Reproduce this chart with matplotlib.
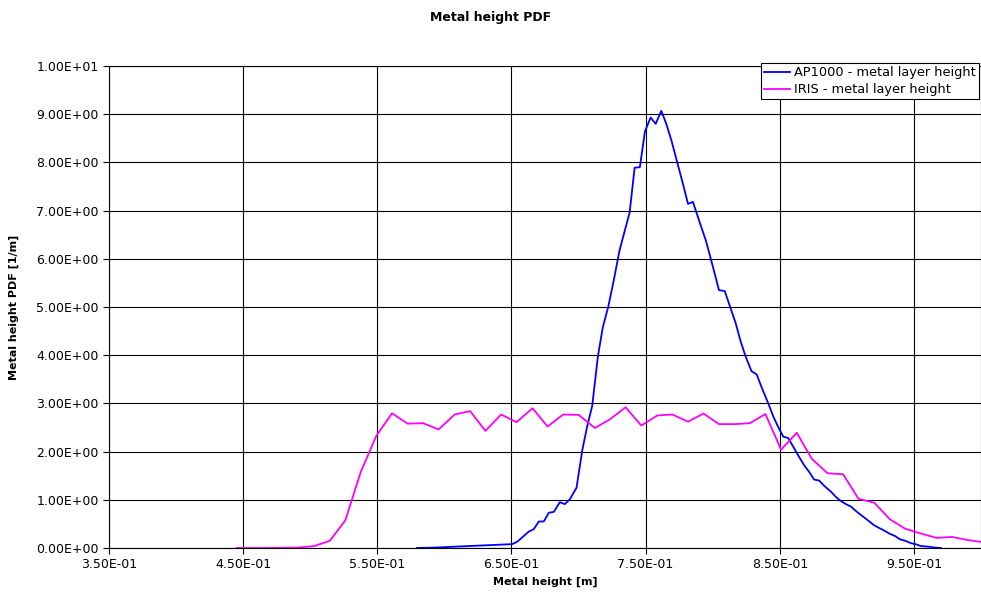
import matplotlib
matplotlib.use("Agg")
import matplotlib.pyplot as plt
from matplotlib.ticker import FuncFormatter, FixedLocator, MultipleLocator

# AP1000 metal layer height PDF
ap1000_h = [0.5796, 0.5946, 0.6095, 0.6343, 0.6505, 0.6543, 0.6629, 0.6666,
            0.6704, 0.6741, 0.6778, 0.6816, 0.6860, 0.6898, 0.6935, 0.6985,
            0.7028, 0.7065, 0.7102, 0.7144, 0.7181, 0.7222, 0.7263, 0.7306,
            0.7381, 0.7418, 0.7457, 0.7495, 0.7537, 0.7575, 0.7617, 0.7654,
            0.7692, 0.7731, 0.7774, 0.7816, 0.7853, 0.7905, 0.7948, 0.7985,
            0.8047, 0.8090, 0.8129, 0.8172, 0.8209, 0.8246, 0.8289, 0.8328,
            0.8371, 0.8413, 0.8453, 0.8487, 0.8526, 0.8563, 0.8607, 0.8644,
            0.8681, 0.8719, 0.8756, 0.8793, 0.8831, 0.8881, 0.8918, 0.8955,
            0.8993, 0.9030, 0.9075, 0.9117, 0.9159, 0.9199, 0.9237, 0.9274,
            0.9316, 0.9358, 0.9396, 0.9435, 0.9478, 0.9515, 0.9552, 0.9602,
            0.9651, 0.9701]
ap1000_pdf = [0.0, 0.01, 0.03, 0.06, 0.08, 0.13, 0.34, 0.39,
              0.55, 0.55, 0.73, 0.75, 0.95, 0.91, 1.01, 1.25,
              2.03, 2.53, 2.95, 3.97, 4.58, 5.01, 5.56, 6.18,
              6.96, 7.89, 7.90, 8.64, 8.93, 8.80, 9.07, 8.80,
              8.46, 8.05, 7.60, 7.14, 7.18, 6.74, 6.39, 6.01,
              5.35, 5.33, 5.01, 4.66, 4.28, 3.97, 3.67, 3.60,
              3.29, 3.01, 2.72, 2.52, 2.31, 2.28, 2.07, 1.89,
              1.72, 1.58, 1.42, 1.40, 1.29, 1.17, 1.06, 0.975,
              0.91, 0.86, 0.75, 0.66, 0.57, 0.48, 0.42, 0.37,
              0.30, 0.25, 0.18, 0.15, 0.10, 0.077, 0.04, 0.03,
              0.01, 0.0]

# IRIS metal layer height PDF
iris_h = [0.4451, 0.4566, 0.4682, 0.4799, 0.4914, 0.5030, 0.5146, 0.5261,
          0.5377, 0.5493, 0.5610, 0.5726, 0.5841, 0.5957, 0.6077, 0.6192,
          0.6306, 0.6423, 0.6537, 0.6657, 0.6769, 0.6886, 0.7002, 0.7122,
          0.7234, 0.7351, 0.7468, 0.7587, 0.7699, 0.7816, 0.7931, 0.8047,
          0.8163, 0.8278, 0.8393, 0.8510, 0.8627, 0.8739, 0.8856, 0.8972,
          0.9087, 0.9204, 0.9321, 0.9435, 0.9552, 0.9669, 0.9784, 0.9901,
          1.0015]
iris_pdf = [0.0, 0.0, 0.0, 0.005, 0.01, 0.04, 0.15, 0.57,
            1.58, 2.33, 2.795, 2.58, 2.59, 2.46, 2.77, 2.84,
            2.43, 2.77, 2.61, 2.90, 2.52, 2.77, 2.76, 2.49,
            2.67, 2.92, 2.54, 2.75, 2.77, 2.62, 2.79, 2.57,
            2.57, 2.59, 2.78, 2.04, 2.39, 1.85, 1.55, 1.53,
            1.02, 0.94, 0.595, 0.40, 0.30, 0.21, 0.23, 0.166,
            0.12]

x_ticks = [0.35, 0.45, 0.55, 0.65, 0.75, 0.85, 0.95]

W, H = 981, 599
fig = plt.figure(figsize=(W / 100, H / 100), dpi=100)
ax = fig.add_axes([109 / W, 51 / H, 872 / W, 482 / H])

ax.plot(ap1000_h, ap1000_pdf, color="#0000FF", lw=1.3, label="AP1000 - metal layer height")
ax.plot(iris_h, iris_pdf, color="#FF00FF", lw=1.3, label="IRIS - metal layer height")

ax.set_xlim(0.35, 1.0)
ax.set_ylim(0, 10)
ax.xaxis.set_major_locator(FixedLocator(x_ticks))
ax.yaxis.set_major_locator(MultipleLocator(1.0))
sci = FuncFormatter(lambda v, pos: f"{v:.2E}")
ax.xaxis.set_major_formatter(sci)
ax.yaxis.set_major_formatter(sci)
ax.tick_params(direction="out", length=4, width=0.8, labelsize=9, colors="black")
ax.grid(True, color="black", lw=0.8)
ax.set_axisbelow(True)
for s in ax.spines.values():
    s.set_color("black")
    s.set_linewidth(0.8)

ax.set_xlabel("Metal height [m]", fontsize=8, fontweight="bold", labelpad=4)
ax.set_ylabel("Metal height PDF [1/m]", fontsize=8, fontweight="bold", labelpad=12)
fig.text(0.5, 1 - 17 / H, "Metal height PDF", ha="center", va="center",
         fontsize=9, fontweight="bold")

leg = ax.legend(loc="upper right", bbox_to_anchor=(979 / W, 1 - 63 / H),
                bbox_transform=fig.transFigure, borderaxespad=0,
                fontsize=9.3, fancybox=False, framealpha=1, edgecolor="black",
                handlelength=2.0, handletextpad=0.3, labelspacing=0.3,
                borderpad=0.25)
leg.get_frame().set_linewidth(0.8)

fig.savefig("out.png", dpi=100)
